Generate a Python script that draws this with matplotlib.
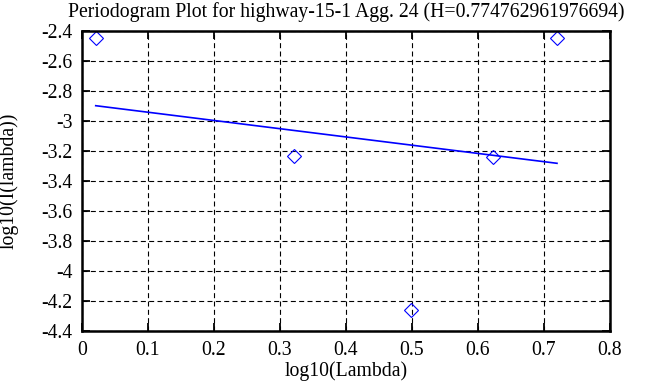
import matplotlib
matplotlib.use("Agg")
import matplotlib.pyplot as plt
from matplotlib.ticker import FormatStrFormatter, MultipleLocator

plt.rcParams['font.family'] = ['Liberation Serif', 'DejaVu Serif']
plt.rcParams['axes.unicode_minus'] = False

# Data
log_lambda = [0.0208, 0.3218, 0.4979, 0.6228, 0.7197]
log_I = [-2.449, -3.235, -4.262, -3.238, -2.449]
fit_x = [0.0208, 0.7197]
fit_y = [-2.898, -3.282]

title = "Periodogram Plot for highway-15-1 Agg. 24 (H=0.774762961976694)"
xlabel = "log10(Lambda)"
ylabel = "log10(I(lambda))"

FS = 14.2

fig = plt.figure(figsize=(6.68, 3.87), dpi=100)
ax = fig.add_axes([82/668, 1-331/387, (610-82)/668, (331-31)/387])

ax.plot(log_lambda, log_I, linestyle='none', marker='D', markersize=7,
        markerfacecolor='none', markeredgecolor='blue', markeredgewidth=0.8)
ax.plot(fit_x, fit_y, color='blue', linewidth=1.2)

ax.set_xlim(0, 0.8)
ax.set_ylim(-4.4, -2.4)
ax.xaxis.set_major_locator(MultipleLocator(0.1))
ax.yaxis.set_major_locator(MultipleLocator(0.2))
ax.xaxis.set_major_formatter(FormatStrFormatter('%g'))
ax.yaxis.set_major_formatter(FormatStrFormatter('%g'))
ax.grid(True, color='black', linestyle=(0, (4.5, 3)), linewidth=0.8)
ax.tick_params(direction='in', length=6, width=1.3, top=True, right=True,
               labelsize=FS)
ax.tick_params(axis='x', pad=7)
ax.tick_params(axis='y', pad=7)
for s in ax.spines.values():
    s.set_linewidth(1.8)

ax.set_title(title, fontsize=FS, pad=10)
ax.set_xlabel(xlabel, fontsize=FS, labelpad=1)
ax.set_ylabel(ylabel, fontsize=FS, labelpad=16)

fig.savefig("out.png", dpi=100)
